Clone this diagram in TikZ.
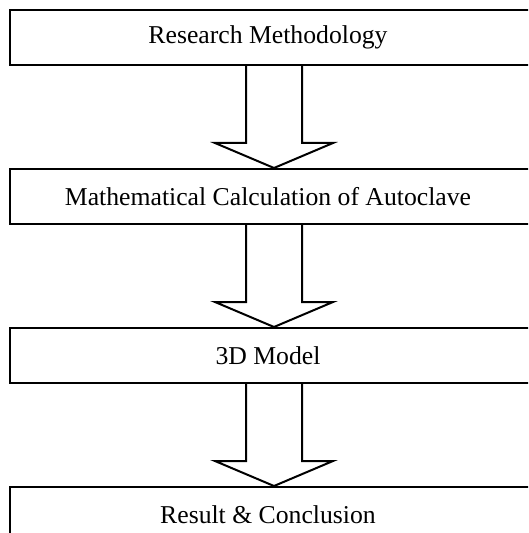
\documentclass[tikz,border=0pt]{standalone}
\usepackage{fontspec}
\setmainfont{Liberation Serif}
\usepackage{tikz}
\usetikzlibrary{positioning}

\begin{document}
\begin{tikzpicture}[line width=1pt,font=\fontsize{12.85}{15}\selectfont]
		\tikzstyle{stepbox}=[rectangle,draw,inner sep=0pt,minimum width=264pt,minimum height=27.5pt,
			execute at end node=\hspace*{6pt}];
		\tikzstyle{hollow}=[draw,line join=miter];
		\path[use as bounding box,clip](0,0)rectangle(264pt,-266.5pt);
		\node[stepbox](meth)at(137pt,-18.75pt){Research Methodology};
		\node[stepbox,below=51pt of meth](calc){Mathematical Calculation of Autoclave};
		\node[stepbox,below=51pt of calc](model){3D Model};
		\node[stepbox,below=51pt of model](result){Result \& Conclusion};

		\draw[hollow]([xshift=-14pt]meth.south)--([xshift=-14pt,yshift=12.5pt]calc.north)--([xshift=-29.5pt,yshift=12.5pt]calc.north)
			--(calc.north)--([xshift=29.5pt,yshift=12.5pt]calc.north)--([xshift=14pt,yshift=12.5pt]calc.north)--([xshift=14pt]meth.south);
		\draw[hollow]([xshift=-14pt]calc.south)--([xshift=-14pt,yshift=12.5pt]model.north)--([xshift=-29.5pt,yshift=12.5pt]model.north)
			--(model.north)--([xshift=29.5pt,yshift=12.5pt]model.north)--([xshift=14pt,yshift=12.5pt]model.north)--([xshift=14pt]calc.south);
		\draw[hollow]([xshift=-14pt]model.south)--([xshift=-14pt,yshift=12.5pt]result.north)--([xshift=-29.5pt,yshift=12.5pt]result.north)
			--(result.north)--([xshift=29.5pt,yshift=12.5pt]result.north)--([xshift=14pt,yshift=12.5pt]result.north)--([xshift=14pt]model.south);
	\end{tikzpicture}
\end{document}
